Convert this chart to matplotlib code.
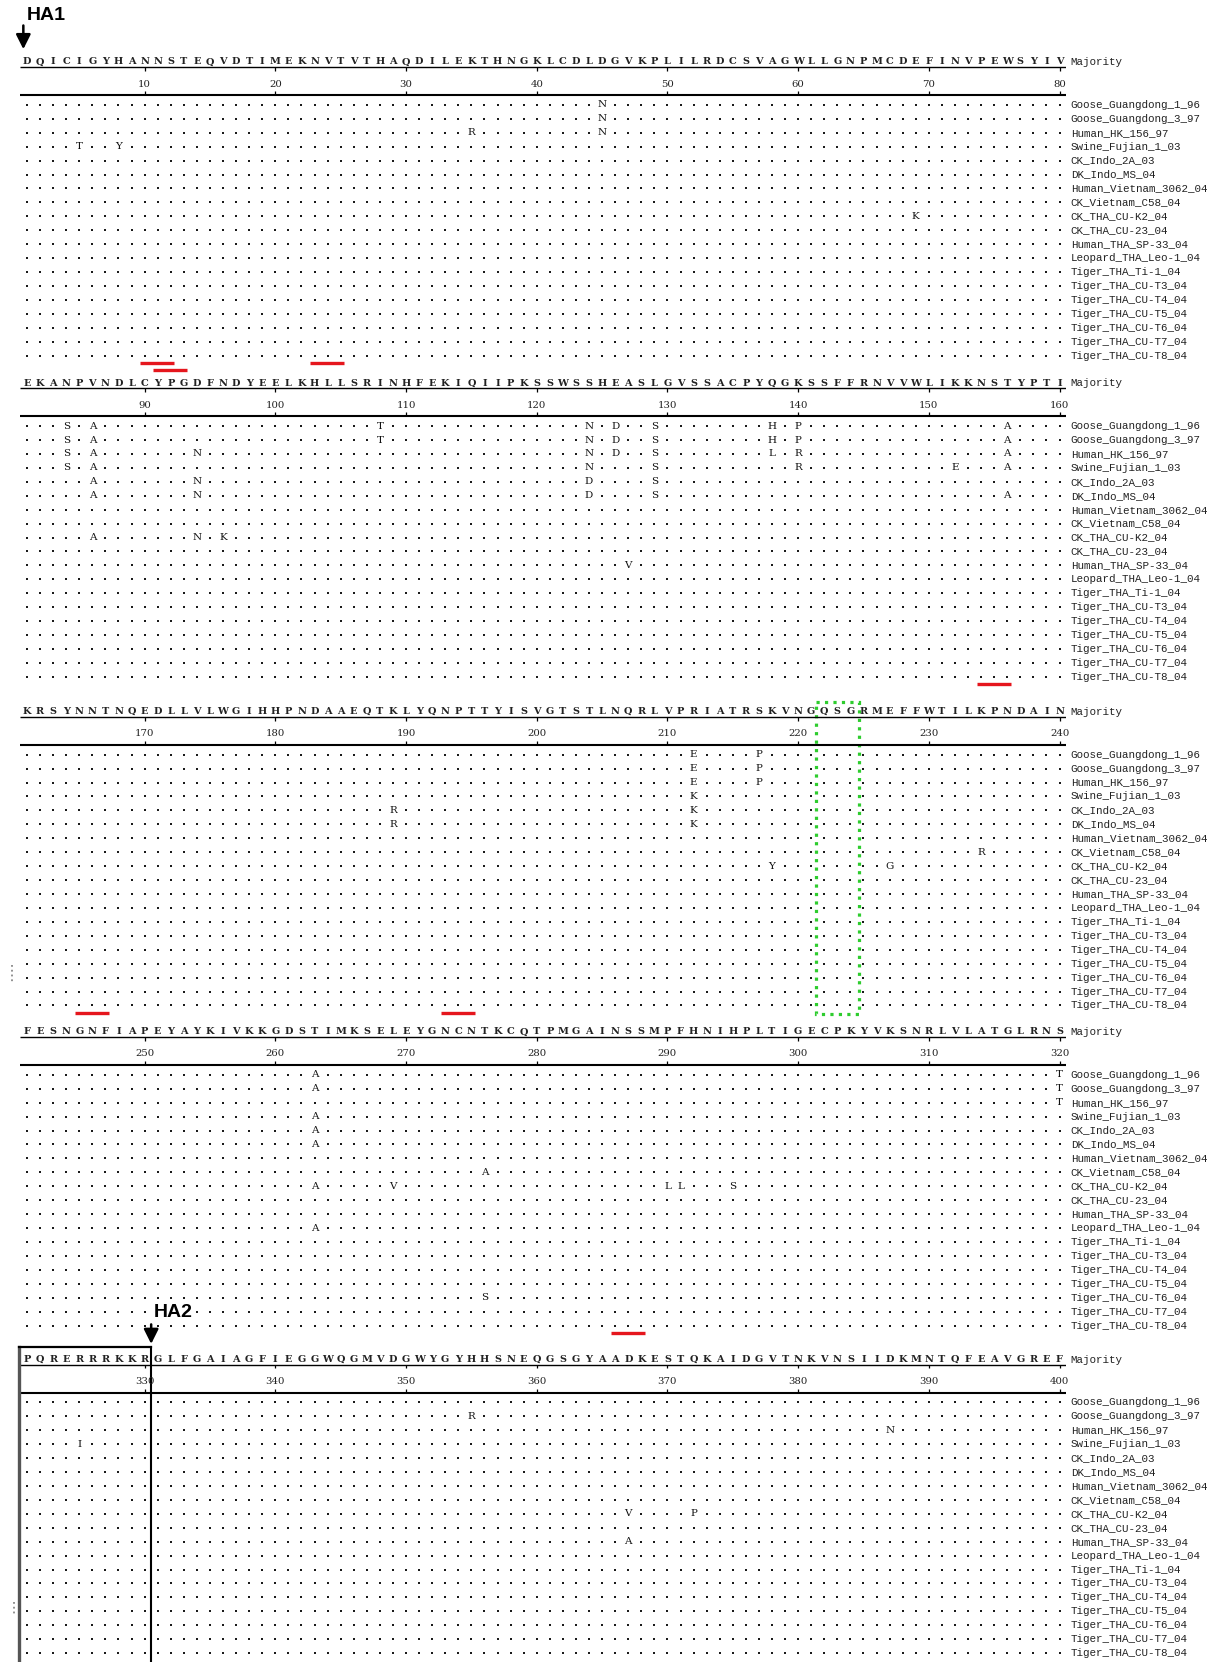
import numpy as np
import matplotlib.pyplot as plt
from matplotlib.patches import Rectangle

# HA consensus (majority) sequence, 80 residues per block
majority = [
    "DQICIGYHANNSTEQVDTIMEKNVTVTHAQDILEKTHNGKLCDLDGVKPLILRDCSVAGWLLGNPMCDEFINVPEWSYIV",
    "EKANPVNDLCYPGDFNDYEELKHLLSRINHFEKIQIIPKSSWSSHEASLGVSSACPYQGKSSFFRNVVWLIKKNSTYPTI",
    "KRSYNNTNQEDLLVLWGIHHPNDAAEQTKLYQNPTTYISVGTSTLNQRLVPRIATRSKVNGQSGRMEFFWTILKPNDAIN",
    "FESNGNFIAPEYAYKIVKKGDSTIMKSELEYGNCNTKCQTPMGAINSSMPFHNIHPLTIGECPKYVKSNRLVLATGLRNS",
    "PQRERRRKKRGLFGAIAGFIEGGWQGMVDGWYGYHHSNEQGSGYAADKESTQKAIDGVTNKVNSIIDKMNTQFEAVGREF",
]

strains = [
    "Goose_Guangdong_1_96", "Goose_Guangdong_3_97", "Human_HK_156_97",
    "Swine_Fujian_1_03", "CK_Indo_2A_03", "DK_Indo_MS_04",
    "Human_Vietnam_3062_04", "CK_Vietnam_C58_04", "CK_THA_CU-K2_04",
    "CK_THA_CU-23_04", "Human_THA_SP-33_04", "Leopard_THA_Leo-1_04",
    "Tiger_THA_Ti-1_04", "Tiger_THA_CU-T3_04", "Tiger_THA_CU-T4_04",
    "Tiger_THA_CU-T5_04", "Tiger_THA_CU-T6_04", "Tiger_THA_CU-T7_04",
    "Tiger_THA_CU-T8_04",
]

# (strain index, residue position, residue) where a strain differs from majority
substitutions = [
    (0, 45, 'N'), (1, 45, 'N'), (2, 35, 'R'), (2, 45, 'N'), (3, 5, 'T'), (3, 8, 'Y'), (8, 69, 'K'),
    (0, 84, 'S'), (0, 86, 'A'), (0, 108, 'T'), (0, 124, 'N'), (0, 126, 'D'), (0, 129, 'S'),
    (0, 138, 'H'), (0, 140, 'P'), (0, 156, 'A'),
    (1, 84, 'S'), (1, 86, 'A'), (1, 108, 'T'), (1, 124, 'N'), (1, 126, 'D'), (1, 129, 'S'),
    (1, 138, 'H'), (1, 140, 'P'), (1, 156, 'A'),
    (2, 84, 'S'), (2, 86, 'A'), (2, 94, 'N'), (2, 124, 'N'), (2, 126, 'D'), (2, 129, 'S'),
    (2, 138, 'L'), (2, 140, 'R'), (2, 156, 'A'),
    (3, 84, 'S'), (3, 86, 'A'), (3, 124, 'N'), (3, 129, 'S'), (3, 140, 'R'), (3, 152, 'E'),
    (3, 156, 'A'),
    (4, 86, 'A'), (4, 94, 'N'), (4, 124, 'D'), (4, 129, 'S'),
    (5, 86, 'A'), (5, 94, 'N'), (5, 124, 'D'), (5, 129, 'S'), (5, 156, 'A'),
    (8, 86, 'A'), (8, 94, 'N'), (8, 96, 'K'), (10, 127, 'V'),
    (0, 212, 'E'), (0, 217, 'P'), (1, 212, 'E'), (1, 217, 'P'), (2, 212, 'E'), (2, 217, 'P'),
    (3, 212, 'K'), (4, 189, 'R'), (4, 212, 'K'), (5, 189, 'R'), (5, 212, 'K'),
    (7, 234, 'R'), (8, 218, 'Y'), (8, 227, 'G'),
    (0, 263, 'A'), (0, 320, 'T'), (1, 263, 'A'), (1, 320, 'T'), (2, 320, 'T'),
    (3, 263, 'A'), (4, 263, 'A'), (5, 263, 'A'), (7, 276, 'A'),
    (8, 263, 'A'), (8, 269, 'V'), (8, 290, 'L'), (8, 291, 'L'), (8, 295, 'S'),
    (11, 263, 'A'), (16, 276, 'S'),
    (1, 355, 'R'), (2, 387, 'N'), (3, 325, 'I'), (8, 367, 'V'), (8, 372, 'P'), (10, 367, 'A'),
]

# glycosylation sites underlined in red: (first, last, level)
glyco_sites = [(10, 12, 0), (11, 13, 1), (23, 25, 0), (154, 156, 0),
               (165, 167, 0), (193, 195, 0), (286, 288, 0)]
receptor_box = (222, 224)
ha2_start = 331

W, H = 1218, 1662
X0, DX, RS = 27.0, 13.07, 13.93          # pixel position of first column, column and row step
row0_px = [104.9, 426.1, 754.7, 1074.8, 1402.4]
YTOP, YBOT = -4.2, 19.6
mono = 'Liberation Mono'
serif = 'DejaVu Serif'

fig = plt.figure(figsize=(W / 100, H / 100), dpi=100)
fig.patch.set_facecolor('white')

sub_lookup = {(r, p): c for r, p, c in substitutions}

for b in range(5):
    start = b * 80 + 1
    top_px = row0_px[b] + YTOP * RS
    bot_px = row0_px[b] + YBOT * RS
    ax = fig.add_axes([(X0 - DX / 2) / W, 1 - bot_px / H, 80 * DX / W, (bot_px - top_px) / H])
    ax.set_xlim(start - 0.5, start + 79.5)
    ax.set_ylim(YBOT, YTOP)
    ax.axis('off')
    pos = np.arange(start, start + 80)

    # majority line and ruler
    for p, c in zip(pos, majority[b]):
        ax.text(p, -3.08, c, ha='center', va='center', fontsize=7.0,
                family=serif, fontweight='bold', color='#222')
    ax.text(start + 79.85, -3.06, 'Majority', ha='left', va='center', fontsize=7.8,
            family=mono, color='#222')
    ax.hlines(-2.72, start - 0.5, start + 79.5, color='k', lw=1.0)
    ax.hlines(-0.7, start - 0.5, start + 79.5, color='k', lw=1.5)
    ticks = pos[pos % 10 == 0]
    ax.vlines(ticks, -2.72, -2.45, color='k', lw=0.9)
    ax.vlines(ticks, -0.98, -0.7, color='k', lw=0.9)
    for t in ticks:
        ax.text(t, -1.5, str(t), ha='center', va='center', fontsize=7.3, family=serif, color='#222')

    # alignment rows
    dx_, dy_ = [], []
    for r, name in enumerate(strains):
        for p in pos:
            c = sub_lookup.get((r, p))
            if c is None:
                dx_.append(p)
                dy_.append(r)
            else:
                ax.text(p, r, c, ha='center', va='center', fontsize=7.5, family=serif, color='#111')
        ax.text(start + 79.85, r, name, ha='left', va='center', fontsize=7.8,
                family=mono, color='#222')
    ax.scatter(dx_, dy_, marker='s', s=4.2, c='#1a1a1a', linewidths=0)

    # glycosylation site marks
    for s, e, lev in glyco_sites:
        if start <= s < start + 80:
            ax.plot([s - 0.35, e + 0.25], [18.53 + 0.52 * lev] * 2, color='#e5161d',
                    lw=2.4, solid_capstyle='butt', clip_on=False)

    if start <= receptor_box[0] < start + 80:
        ax.add_patch(Rectangle((receptor_box[0] - 0.65, -3.8), receptor_box[1] - receptor_box[0] + 1.3,
                               22.42, fill=False, ec='#2ecc2e', lw=2.3, ls=':', clip_on=False))
        ax.plot([start - 1.15] * 2, [15.1, 16.3], color='#888', lw=1.3, ls=':', clip_on=False)

    if b == 0:
        ax.text(0.96, -6.45, 'HA1', ha='left', va='center', fontsize=14,
                fontweight='bold', family='Liberation Sans')
        ax.annotate('', xy=(0.72, -3.8), xytext=(0.72, -5.9), annotation_clip=False,
                    arrowprops=dict(arrowstyle='-|>', color='k', lw=1.8, mutation_scale=22))

    if b == 4:
        xc = ha2_start - 0.5
        ax.text(xc + 0.2, -6.47, 'HA2', ha='left', va='center', fontsize=14,
                fontweight='bold', family='Liberation Sans',
                bbox=dict(facecolor='white', edgecolor='none', pad=0.3))
        ax.annotate('', xy=(xc, -4.0), xytext=(xc, -5.8), annotation_clip=False,
                    arrowprops=dict(arrowstyle='-|>', color='k', lw=1.8, mutation_scale=22))
        ax.plot([start - 0.6] * 2, [-4.0, 19.0], color='#555', lw=2.4, clip_on=False)
        ax.plot([start - 0.6, xc], [-4.0, -4.0], color='k', lw=1.6, clip_on=False)
        ax.plot([xc, xc], [-4.0, 19.0], color='k', lw=1.5, clip_on=False)
        ax.plot([start - 1.0] * 2, [14.3, 15.3], color='#888', lw=1.3, ls=':', clip_on=False)

fig.savefig('out.png', dpi=100, facecolor='white')
